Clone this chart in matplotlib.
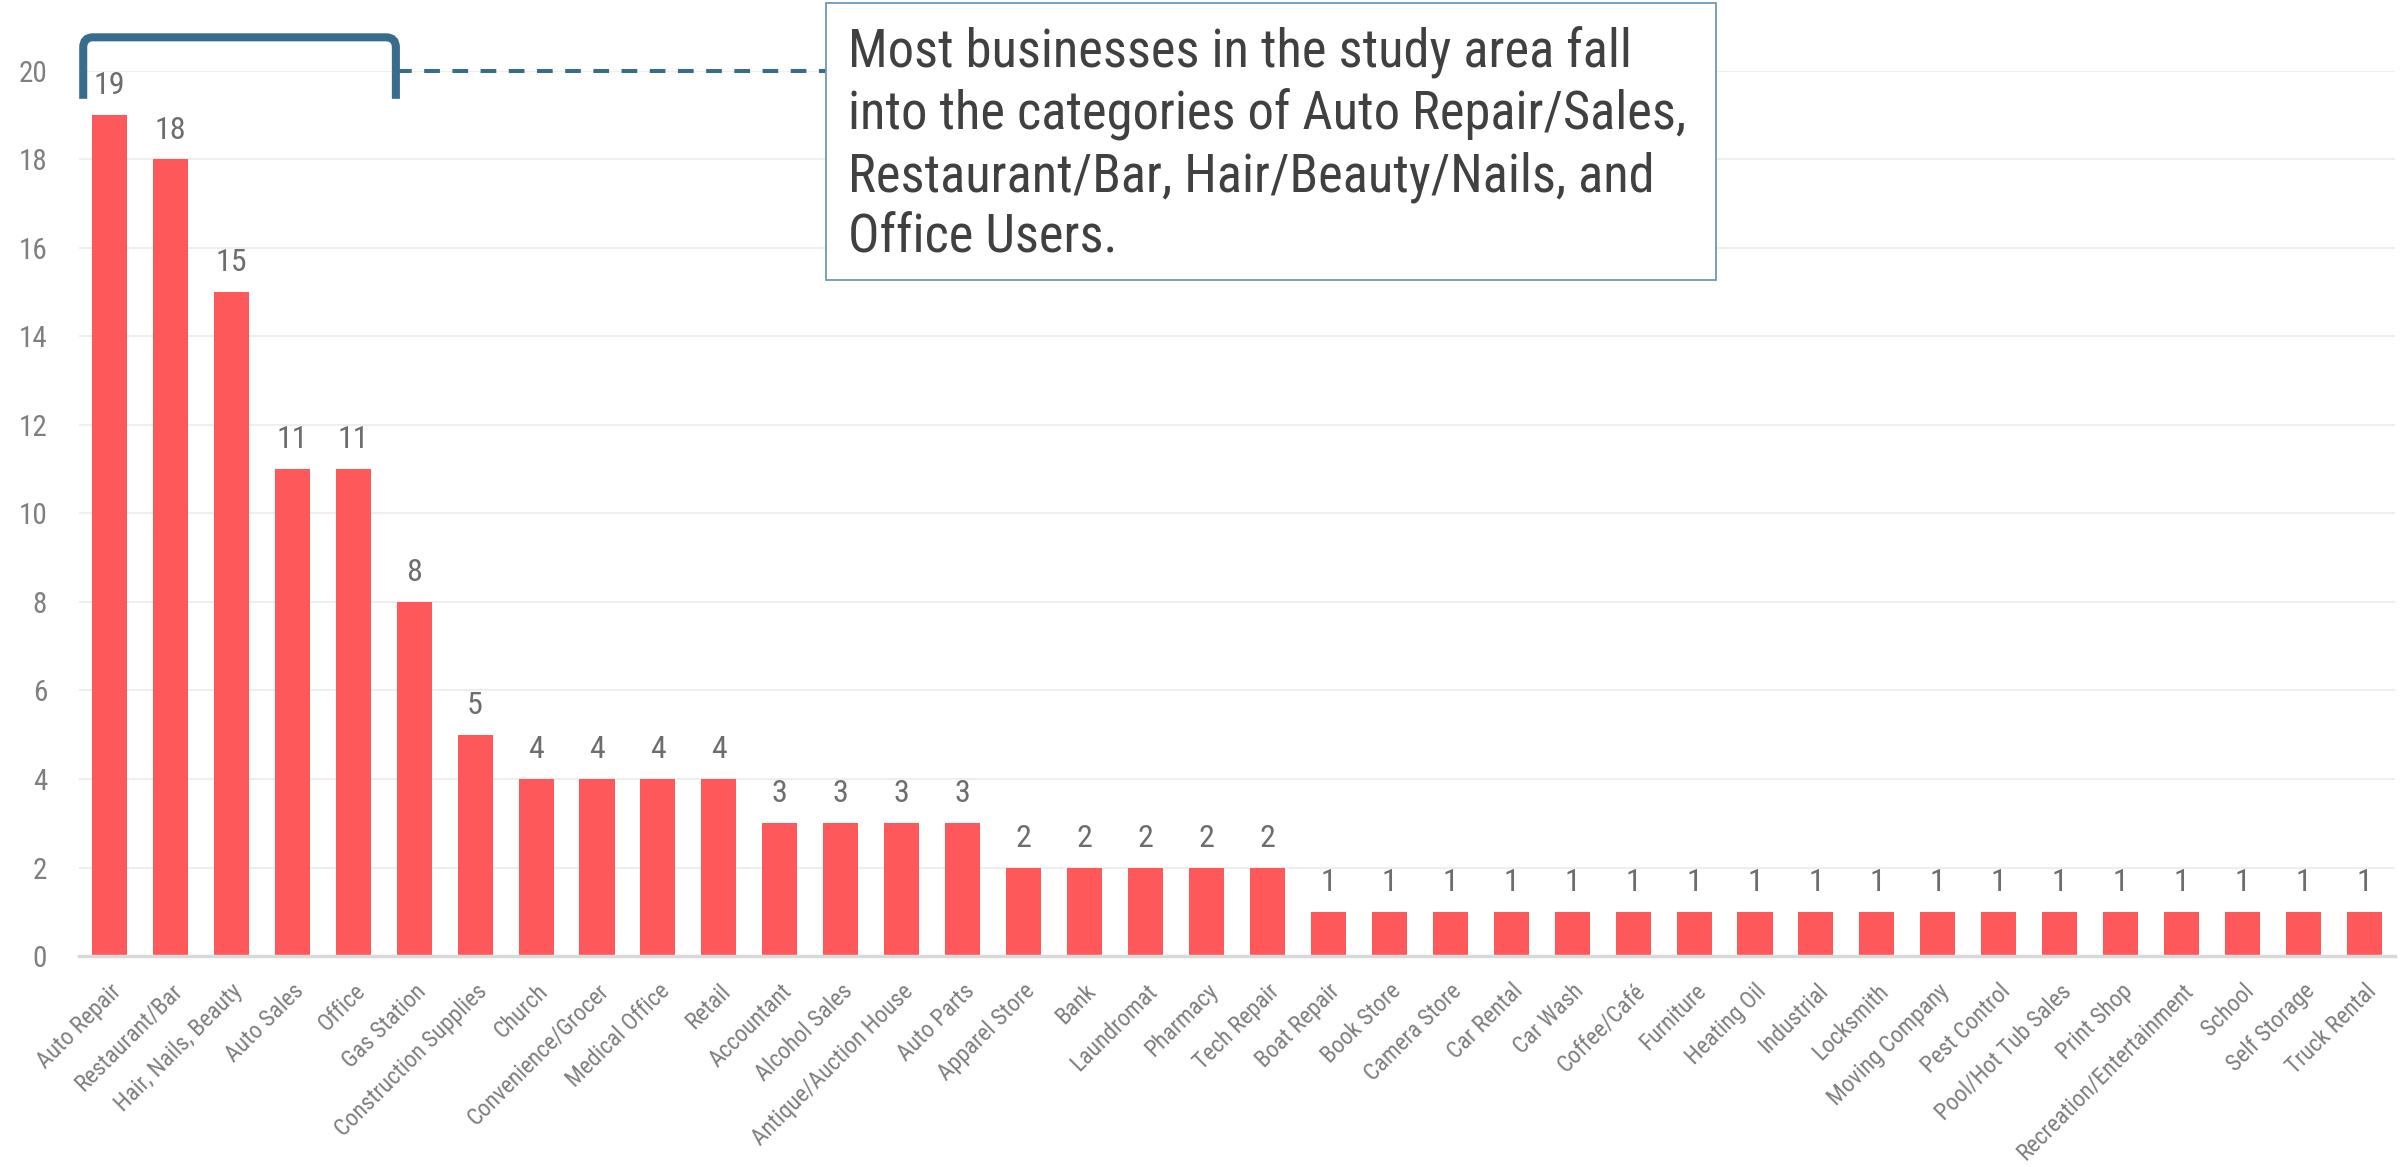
import matplotlib
matplotlib.use("Agg")
import matplotlib.pyplot as plt
from matplotlib import font_manager
from matplotlib.path import Path
from matplotlib.patches import PathPatch, Rectangle

categories = [
    "Auto Repair", "Restaurant/Bar", "Hair, Nails, Beauty", "Auto Sales", "Office",
    "Gas Station", "Construction Supplies", "Church", "Convenience/Grocer",
    "Medical Office", "Retail", "Accountant", "Alcohol Sales", "Antique/Auction House",
    "Auto Parts", "Apparel Store", "Bank", "Laundromat", "Pharmacy", "Tech Repair",
    "Boat Repair", "Book Store", "Camera Store", "Car Rental", "Car Wash",
    "Coffee/Café", "Furniture", "Heating Oil", "Industrial", "Locksmith",
    "Moving Company", "Pest Control", "Pool/Hot Tub Sales", "Print Shop",
    "Recreation/Entertainment", "School", "Self Storage", "Truck Rental",
]
counts = [19, 18, 15, 11, 11, 8, 5, 4, 4, 4, 4, 3, 3, 3, 3, 2, 2, 2, 2, 2,
          1, 1, 1, 1, 1, 1, 1, 1, 1, 1, 1, 1, 1, 1, 1, 1, 1, 1]
y_ticks = [0, 2, 4, 6, 8, 10, 12, 14, 16, 18, 20]
note = ("Most businesses in the study area fall\n"
        "into the categories of Auto Repair/Sales,\n"
        "Restaurant/Bar, Hair/Beauty/Nails, and\n"
        "Office Users.")

installed = {f.name for f in font_manager.fontManager.ttflist}
family = "DejaVu Sans"
for cand in ["Roboto Condensed", "Liberation Sans Narrow", "Roboto"]:
    if cand in installed:
        family = cand
        break
plt.rcParams["font.family"] = [family, "DejaVu Sans"]

BAR = "#FF585A"
BRACKET = "#386C8C"

fig = plt.figure(figsize=(24.07, 11.67), dpi=100)
ax = fig.add_axes([0.0328, 0.1808, 0.9622, 0.7584])

x = list(range(len(categories)))
ax.bar(x, counts, width=0.575, color=BAR, zorder=3)

for xi, v in zip(x, counts):
    ax.annotate(str(v), (xi, v), xytext=(0, 15), textcoords="offset points",
                ha="center", va="baseline", fontsize=23, color="#6d6d6d", zorder=4)

ax.set_xlim(-0.5, len(categories) - 0.5)
ax.set_ylim(0, 20)
ax.set_yticks(y_ticks)
ax.set_xticks(x)
ax.set_xticklabels(categories, rotation=45, ha="right", va="top",
                   rotation_mode="anchor", fontsize=17, color="#7f7f7f")
ax.tick_params(axis="y", labelsize=21, labelcolor="#7f7f7f", length=0, pad=23)
ax.tick_params(axis="x", length=0, pad=17)
ax.grid(axis="y", color="#eeeeee", linewidth=1.5, zorder=0)
for s in ["top", "right", "left"]:
    ax.spines[s].set_visible(False)
ax.spines["bottom"].set_color("#d9d9d9")
ax.spines["bottom"].set_linewidth(2.5)
ax.spines["bottom"].set_zorder(5)

# bracket over the five largest categories
x0, x1 = -0.43, 4.70
yb, yt = 19.37, 20.76
rx, ry = 0.16, 0.23
verts = [(x0, yb), (x0, yt - ry), (x0, yt), (x0 + rx, yt),
         (x1 - rx, yt), (x1, yt), (x1, yt - ry), (x1, yb)]
codes = [Path.MOVETO, Path.LINETO, Path.CURVE3, Path.CURVE3,
         Path.LINETO, Path.CURVE3, Path.CURVE3, Path.LINETO]
ax.add_patch(PathPatch(Path(verts, codes), fill=False, edgecolor=BRACKET,
                       linewidth=5.8, clip_on=False, zorder=6, capstyle="butt"))

# callout box with leader line
bx0, bx1 = 11.756, 26.36
by0, by1 = 15.28, 21.53
ax.plot([x1, bx0], [20, 20], color=BRACKET, linewidth=2.9,
        linestyle=(0, (3.9, 3.1)), clip_on=False, zorder=6, solid_capstyle="butt",
        dash_capstyle="butt")
ax.add_patch(Rectangle((bx0, by0), bx1 - bx0, by1 - by0, facecolor="white",
                       edgecolor="#6F98B5", linewidth=1.3, clip_on=False, zorder=7))
ax.text(12.12, 21.0, note, ha="left", va="top", fontsize=37.8, color="#404040",
        linespacing=1.24, zorder=8, clip_on=False)

fig.savefig("out.png", dpi=100)
